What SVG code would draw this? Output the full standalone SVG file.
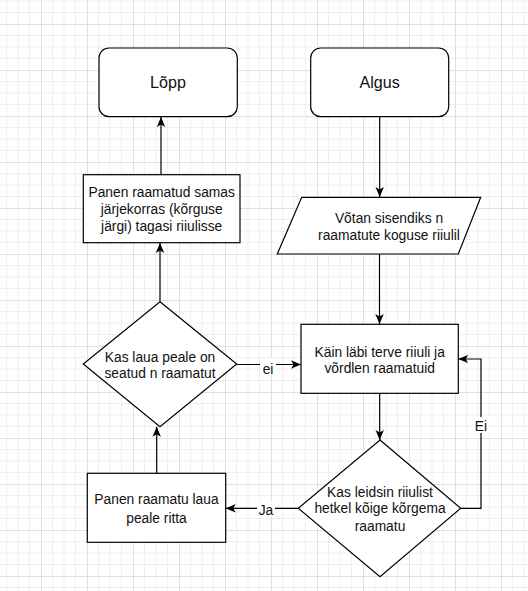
<svg xmlns="http://www.w3.org/2000/svg" width="528" height="591" viewBox="0 0 528 591">
  <defs>
    <pattern id="grid" patternUnits="userSpaceOnUse" x="41" y="24" width="46" height="46">
      <path d="M11.5 0V46M23 0V46M34.5 0V46M0 11.5H46M0 23H46M0 34.5H46" stroke="#efefef" stroke-width="1" fill="none"/>
      <path d="M0.5 0V46M0 0.5H46" stroke="#e0e0e0" stroke-width="1" fill="none"/>
    </pattern>
    <marker id="arr" viewBox="0 0 10 10" refX="10" refY="5" markerWidth="10" markerHeight="10" markerUnits="userSpaceOnUse" orient="auto">
      <path d="M0 0.8 L10 5 L0 9.2 L2.5 5 Z" fill="#000"/>
    </marker>
    <style>
      .shape{fill:#fff;stroke:#000;stroke-width:1.2}
      .t{font-family:"Liberation Sans",Arial,sans-serif;font-size:13.8px;fill:#111;text-anchor:middle}
      .big{font-size:16.1px}
      .conn{fill:none;stroke:#000;stroke-width:1.2}
      .lbl{font-family:"Liberation Sans",Arial,sans-serif;font-size:13.8px;fill:#111;text-anchor:middle}
    </style>
  </defs>
  <rect x="0" y="0" width="528" height="591" fill="#fff"/>
  <rect x="0" y="0" width="528" height="591" fill="url(#grid)"/>

  <g id="connectors">
    <path class="conn" d="M379.7 117V197" marker-end="url(#arr)"/>
    <path class="conn" d="M379.5 254V324" marker-end="url(#arr)"/>
    <path class="conn" d="M379.7 393V440" marker-end="url(#arr)"/>
    <path class="conn" d="M298.3 508.3H225.7" marker-end="url(#arr)"/>
    <path class="conn" d="M460.7 508.3H481V359H458.3" stroke="#333" marker-end="url(#arr)"/>
    <path class="conn" d="M156.7 473.3V426.7" marker-end="url(#arr)"/>
    <path class="conn" d="M236.7 364.5H301" marker-end="url(#arr)"/>
    <path class="conn" d="M160 301.7V243" marker-end="url(#arr)"/>
    <path class="conn" d="M161 175V117" marker-end="url(#arr)"/>
    <g id="edge-labels">
      <rect x="260" y="358" width="16" height="15" fill="#fff"/>
      <text class="lbl" x="268" y="374">ei</text>
      <rect x="257" y="502" width="18" height="15" fill="#fff"/>
      <text class="lbl" x="266" y="515">Ja</text>
      <rect x="472" y="417" width="18" height="16" fill="#fff"/>
      <text class="lbl" x="481" y="430.5">Ei</text>
    </g>
  </g>

  <g id="lopp">
    <rect class="shape" x="99" y="48" width="138.3" height="68.7" rx="10" ry="10"/>
    <text class="t big" x="168" y="88">Lõpp</text>
  </g>
  <g id="algus">
    <rect class="shape" x="310.7" y="48" width="138" height="68.7" rx="10" ry="10"/>
    <text class="t big" x="379.7" y="88">Algus</text>
  </g>
  <g id="panen-riiulisse">
    <rect class="shape" x="83.3" y="174.7" width="156.7" height="68"/>
    <text class="t" x="161.7" y="197">Panen raamatud samas</text>
    <text class="t" x="161.7" y="214">järjekorras (kõrguse</text>
    <text class="t" x="161.7" y="231">järgi) tagasi riiulisse</text>
  </g>
  <g id="sisend">
    <polygon class="shape" points="301.7,197.3 480.7,197.3 458.3,254 277.3,254"/>
    <text class="t" x="389" y="223">Võtan sisendiks n</text>
    <text class="t" x="389" y="240">raamatute koguse riiulil</text>
  </g>
  <g id="kas-laual">
    <polygon class="shape" points="160,301.7 236.7,364 160,426.7 83.3,364"/>
    <text class="t" x="160" y="361.5">Kas laua peale on</text>
    <text class="t" x="160" y="378">seatud n raamatut</text>
  </g>
  <g id="kain-labi">
    <rect class="shape" x="301" y="324.3" width="157.3" height="69"/>
    <text class="t" x="379.7" y="356.5">Käin läbi terve riiuli ja</text>
    <text class="t" x="379.7" y="373">võrdlen raamatuid</text>
  </g>
  <g id="kas-leidsin">
    <polygon class="shape" points="380,440 460.7,508.3 380,576.7 298.3,508.3"/>
    <text class="t" x="380" y="496.5">Kas leidsin riiulist</text>
    <text class="t" x="380" y="513">hetkel kõige kõrgema</text>
    <text class="t" x="380" y="530.5">raamatu</text>
  </g>
  <g id="panen-lauale">
    <rect class="shape" x="87.3" y="473.3" width="138.4" height="69"/>
    <text class="t" x="156.5" y="504">Panen raamatu laua</text>
    <text class="t" x="156.5" y="522.5">peale ritta</text>
  </g>
</svg>
